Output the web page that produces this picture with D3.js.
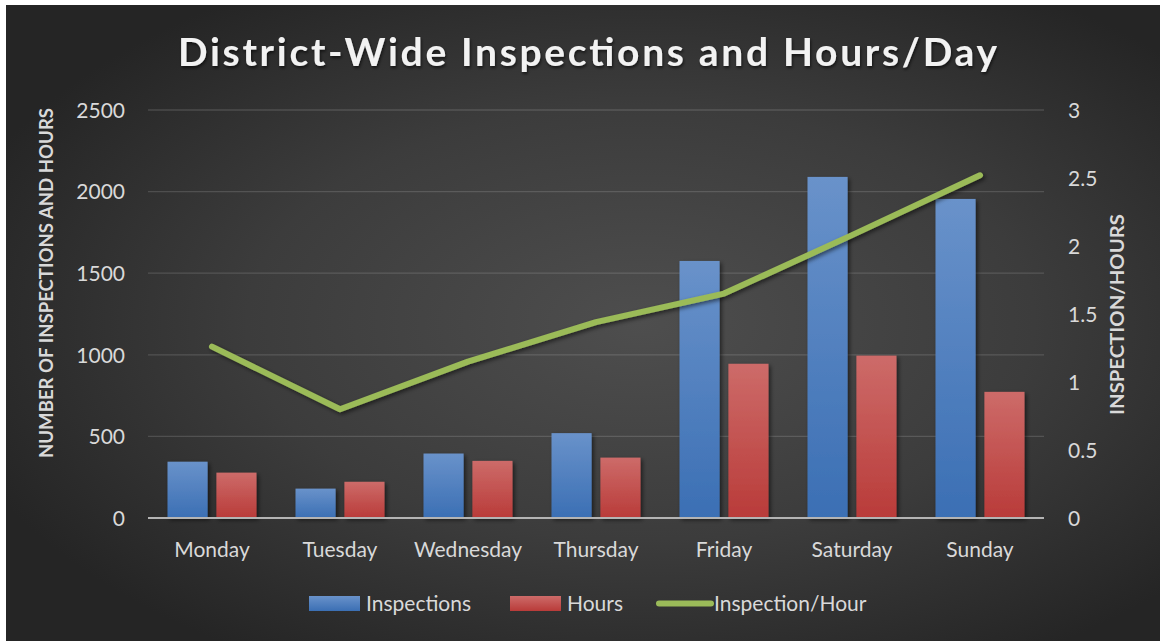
<!DOCTYPE html>
<html><head><meta charset="utf-8">
<script src="https://cdn.jsdelivr.net/npm/d3@7"></script>
<style>
html,body{margin:0;padding:0;background:#fff;}
svg{display:block;}
text{font-family:Lato,"Open Sans",sans-serif;}
</style></head>
<body>
<svg id="chart" width="1161" height="641"></svg>
<script>
const categories = ["Monday","Tuesday","Wednesday","Thursday","Friday","Saturday","Sunday"];
const inspections = [345, 180, 395, 520, 1575, 2090, 1955];
const hours = [278, 222, 350, 370, 945, 995, 773];
const ratio = [1.26, 0.80, 1.15, 1.44, 1.65, 2.08, 2.52];
const leftTicks = [0, 500, 1000, 1500, 2000, 2500];
const rightTicks = [0, 0.5, 1, 1.5, 2, 2.5, 3];
const seriesNames = ["Inspections", "Hours", "Inspection/Hour"];

(function(){
const svg = d3.select("#chart");
const W = 1161, H = 641;
const defs = svg.append("defs");

const bg = defs.append("radialGradient").attr("id","bg")
  .attr("cx","0.55").attr("cy","0.5").attr("r","0.62")
  .attr("gradientUnits","objectBoundingBox");
bg.append("stop").attr("offset","0").attr("stop-color","#4e4e4e");
bg.append("stop").attr("offset","0.55").attr("stop-color","#3c3c3c");
bg.append("stop").attr("offset","1").attr("stop-color","#252525");

function vgrad(id, c1, c2){
  const g = defs.append("linearGradient").attr("id",id).attr("x1",0).attr("y1",0).attr("x2",0).attr("y2",1);
  g.append("stop").attr("offset","0").attr("stop-color",c1);
  g.append("stop").attr("offset","1").attr("stop-color",c2);
}
vgrad("gBlue","#6992ca","#3b6fb4");
vgrad("gRed","#cd6b69","#b93b39");

const sh = defs.append("filter").attr("id","shadow").attr("x","-20%").attr("y","-20%").attr("width","150%").attr("height","150%");
sh.append("feDropShadow").attr("dx",2).attr("dy",2).attr("stdDeviation",2).attr("flood-color","#000").attr("flood-opacity",0.55);
const tsh = defs.append("filter").attr("id","tshadow").attr("x","-5%").attr("y","-20%").attr("width","110%").attr("height","150%");
tsh.append("feDropShadow").attr("dx",1).attr("dy",2).attr("stdDeviation",1.5).attr("flood-color","#000").attr("flood-opacity",0.6);

svg.append("rect").attr("x",6).attr("y",5).attr("width",W-7).attr("height",H-5).attr("fill","url(#bg)");

const pL = 148, pR = 1044, pT = 110, pB = 518;
const x = d3.scaleBand().domain(categories).range([pL,pR]).paddingInner(0.305).paddingOuter(0.1525);
const xs = d3.scaleBand().domain([0,1]).range([0,x.bandwidth()]).paddingInner(0.18).paddingOuter(0);
const y = d3.scaleLinear().domain([0,2500]).range([pB,pT]);
const y2 = d3.scaleLinear().domain([0,3]).range([pB,pT]);

// gridlines
svg.append("g").selectAll("line").data(leftTicks.filter(d=>d>0)).join("line")
  .attr("x1",pL).attr("x2",pR).attr("y1",d=>y(d)).attr("y2",d=>y(d))
  .attr("stroke","rgba(255,255,255,0.14)").attr("stroke-width",1.3);

// left axis
const yAxis = d3.axisLeft(y).tickValues(leftTicks).tickSize(0).tickPadding(0).tickFormat(d3.format("d"));
const ga = svg.append("g").attr("transform",`translate(125,0)`).call(yAxis);
ga.select(".domain").remove();
ga.selectAll("text").attr("fill","#d9d9d9").style("font-size","21px").attr("dy","0.35em");

// right axis
const y2Axis = d3.axisRight(y2).tickValues(rightTicks).tickSize(0).tickPadding(0).tickFormat(d=>String(d));
const gb = svg.append("g").attr("transform",`translate(1068,0)`).call(y2Axis);
gb.select(".domain").remove();
gb.selectAll("text").attr("fill","#d9d9d9").style("font-size","21px").attr("dy","0.35em");

// bars
const data = categories.map((c,i)=>({c, vals:[inspections[i], hours[i]]}));
const groups = svg.append("g").selectAll("g").data(data).join("g")
  .attr("transform",d=>`translate(${x(d.c)},0)`);
groups.selectAll("rect").data(d=>d.vals.map((v,k)=>({v,k}))).join("rect")
  .attr("x",d=>xs(d.k)).attr("width",xs.bandwidth())
  .attr("y",d=>y(d.v)).attr("height",d=>pB-y(d.v))
  .attr("fill",d=>d.k===0?"url(#gBlue)":"url(#gRed)")
  .attr("filter","url(#shadow)");

// baseline
svg.append("line").attr("x1",pL).attr("x2",pR).attr("y1",pB).attr("y2",pB)
  .attr("stroke","#b4b4b4").attr("stroke-width",2);

// x axis labels
const xAxis = d3.axisBottom(x).tickSize(0).tickPadding(0);
const gx = svg.append("g").attr("transform",`translate(0,${pB})`).call(xAxis);
gx.select(".domain").remove();
gx.selectAll("text").attr("fill","#d9d9d9").style("font-size","21px").attr("y",24).attr("dy","0.71em");

// line
const line = d3.line().x((d,i)=>x(categories[i])+x.bandwidth()/2).y(d=>y2(d));
svg.append("path").datum(ratio).attr("d",line).attr("fill","none")
  .attr("stroke","#9bbb59").attr("stroke-width",6).attr("stroke-linecap","round").attr("stroke-linejoin","round")
  .attr("filter","url(#shadow)");

// title
svg.append("text").attr("x",587.5).attr("y",66).attr("text-anchor","middle")
  .attr("fill","#f2f2f2").style("font-size","39px").style("font-weight","bold")
  .attr("textLength",819).attr("lengthAdjust","spacing")
  .attr("filter","url(#tshadow)")
  .text("District-Wide Inspections and Hours/Day");

// axis titles
svg.append("text").attr("transform","translate(53,283) rotate(-90)").attr("text-anchor","middle")
  .attr("fill","#d9d9d9").style("font-size","18px").style("font-weight","bold")
  .attr("textLength",350).attr("lengthAdjust","spacingAndGlyphs")
  .text("NUMBER OF INSPECTIONS AND HOURS");
svg.append("text").attr("transform","translate(1124,314.5) rotate(-90)").attr("text-anchor","middle")
  .attr("fill","#d9d9d9").style("font-size","18px").style("font-weight","bold")
  .attr("textLength",201).attr("lengthAdjust","spacingAndGlyphs")
  .text("INSPECTION/HOURS");

// legend
const lg = svg.append("g");
const legendItems = [
  {name:seriesNames[0], type:"rect", fill:"url(#gBlue)", sx:309, tx:366},
  {name:seriesNames[1], type:"rect", fill:"url(#gRed)", sx:510, tx:567},
  {name:seriesNames[2], type:"line", fill:"#9bbb59", sx:659, tx:714}
];
legendItems.forEach(it=>{
  if(it.type==="rect"){
    lg.append("rect").attr("x",it.sx).attr("y",596).attr("width",51).attr("height",15).attr("fill",it.fill);
  } else {
    lg.append("line").attr("x1",it.sx).attr("x2",it.sx+52).attr("y1",603.5).attr("y2",603.5)
      .attr("stroke",it.fill).attr("stroke-width",6).attr("stroke-linecap","round");
  }
  lg.append("text").attr("x",it.tx).attr("y",611).attr("fill","#d9d9d9").style("font-size","21px").text(it.name);
});
})();
</script>
</body></html>
